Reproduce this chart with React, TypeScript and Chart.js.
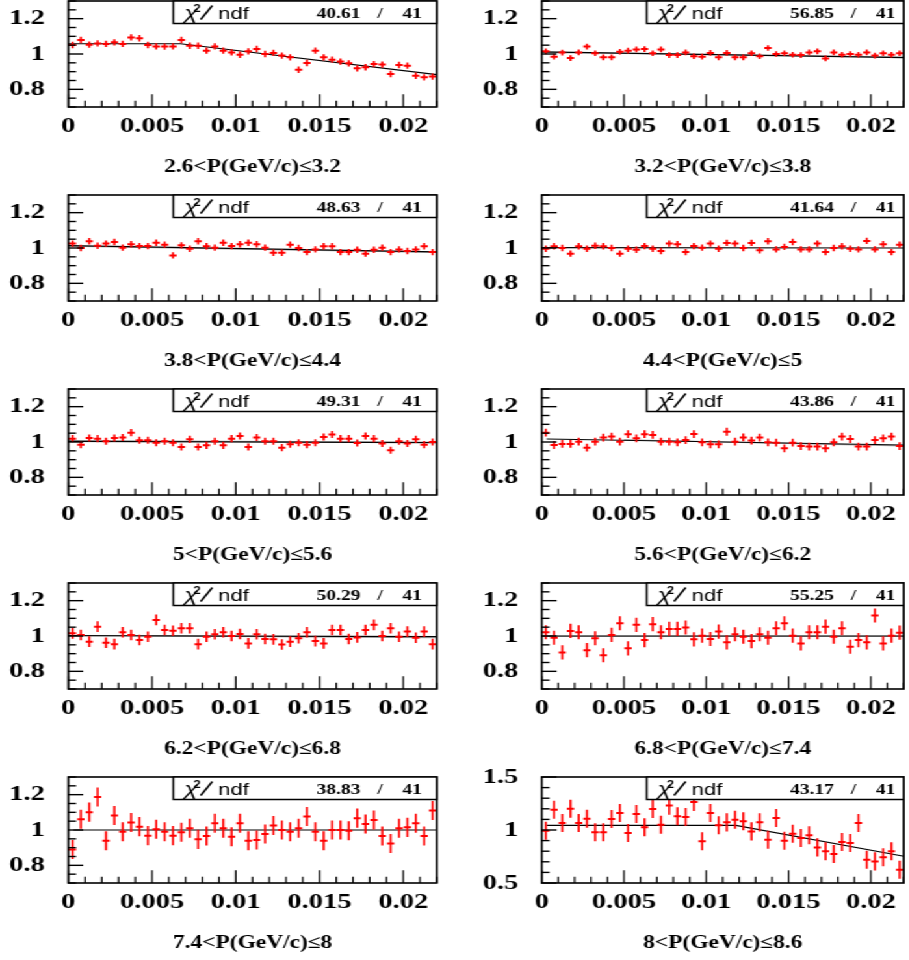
import React, { useEffect, useRef } from "react";
import { Chart, registerables } from "chart.js";
Chart.register(...registerables);

// ---- geometry of the reference (horizontal stretch of the original figure) ----
const STRETCH = 1.3;

// ---- data ----
const binCenters = [
  0.00025, 0.00075, 0.00125, 0.00175, 0.00225, 0.00275, 0.00325, 0.00375, 0.00425, 0.00475,
  0.00525, 0.00575, 0.00625, 0.00675, 0.00725, 0.00775, 0.00825, 0.00875, 0.00925, 0.00975,
  0.01025, 0.01075, 0.01125, 0.01175, 0.01225, 0.01275, 0.01325, 0.01375, 0.01425, 0.01475,
  0.01525, 0.01575, 0.01625, 0.01675, 0.01725, 0.01775, 0.01825, 0.01875, 0.01925, 0.01975,
  0.02025, 0.02075, 0.02125, 0.02175,
];

const panelTitles = [
  "2.6<P(GeV/c)≤3.2", "3.2<P(GeV/c)≤3.8",
  "3.8<P(GeV/c)≤4.4", "4.4<P(GeV/c)≤5",
  "5<P(GeV/c)≤5.6", "5.6<P(GeV/c)≤6.2",
  "6.2<P(GeV/c)≤6.8", "6.8<P(GeV/c)≤7.4",
  "7.4<P(GeV/c)≤8", "8<P(GeV/c)≤8.6",
];

const chi2Values = ["40.61", "56.85", "48.63", "41.64", "49.31", "43.86", "50.29", "55.25", "38.83", "43.17"];
const ndfValues = ["41", "41", "41", "41", "41", "41", "41", "41", "41", "41"];

const ratio1 = [1.051, 1.079, 1.053, 1.060, 1.057, 1.066, 1.057, 1.094, 1.089, 1.051, 1.043, 1.042, 1.043, 1.079, 1.047, 1.047, 1.019, 1.043, 1.019, 1.009, 0.996, 1.015, 1.028, 1.0, 1.006, 0.991, 0.981, 0.911, 0.949, 1.019, 0.981, 0.968, 0.957, 0.947, 0.919, 0.925, 0.943, 0.940, 0.887, 0.938, 0.934, 0.877, 0.868, 0.872];
const ratio2 = [1.015, 0.985, 1.008, 0.977, 1.009, 1.042, 1.004, 0.981, 0.981, 1.013, 1.019, 1.026, 1.028, 1.004, 1.026, 0.994, 0.994, 1.009, 0.987, 0.985, 1.006, 0.981, 1.006, 0.981, 0.981, 1.004, 0.987, 1.034, 1.0, 1.004, 0.996, 0.994, 1.009, 1.015, 0.975, 1.009, 0.996, 1.0, 0.996, 1.009, 0.991, 1.004, 0.996, 1.004];
const ratio3 = [1.025, 1.0, 1.038, 1.013, 1.025, 1.034, 1.002, 1.021, 1.011, 1.011, 1.030, 1.019, 0.958, 1.015, 0.996, 1.038, 1.010, 1.002, 1.030, 1.011, 1.021, 1.030, 1.021, 1.002, 0.973, 0.973, 1.019, 1.0, 0.977, 0.992, 1.010, 1.010, 0.977, 0.977, 0.990, 0.968, 0.990, 1.002, 0.977, 0.992, 0.983, 0.992, 1.010, 0.977];
const ratio4 = [0.996, 1.010, 1.0, 0.968, 1.010, 0.996, 1.013, 1.010, 1.0, 0.968, 0.996, 0.990, 1.011, 0.996, 0.983, 1.025, 1.021, 0.977, 1.011, 1.002, 1.025, 0.996, 1.029, 1.025, 1.0, 1.029, 0.987, 1.038, 0.992, 1.006, 1.034, 0.992, 0.992, 1.025, 0.977, 1.0, 1.010, 0.996, 0.992, 1.040, 0.992, 1.021, 0.977, 1.019];
const ratio5 = [1.019, 0.985, 1.023, 1.019, 1.004, 1.023, 1.025, 1.053, 1.010, 1.010, 0.996, 1.004, 0.996, 0.972, 1.015, 0.972, 0.981, 1.004, 0.981, 1.019, 1.034, 0.972, 1.025, 1.004, 1.004, 0.968, 0.987, 0.996, 0.985, 0.996, 1.028, 1.042, 1.019, 1.019, 0.994, 1.034, 1.019, 0.991, 0.953, 1.004, 0.991, 1.015, 0.985, 1.0];
const ratio6 = [1.053, 0.983, 0.989, 0.989, 1.002, 0.968, 1.002, 1.025, 1.031, 1.002, 1.044, 1.021, 1.044, 1.040, 1.002, 1.002, 0.998, 1.011, 1.045, 0.998, 0.987, 0.987, 1.058, 1.002, 1.026, 1.008, 1.025, 0.998, 0.996, 0.964, 0.996, 0.977, 0.974, 0.974, 0.964, 0.998, 1.031, 1.017, 0.974, 0.974, 1.011, 1.021, 1.031, 0.977];
const ratio7 = [1.015, 1.006, 0.968, 1.053, 0.962, 0.954, 1.021, 1.006, 0.977, 0.996, 1.091, 1.034, 1.030, 1.044, 1.044, 0.954, 0.996, 1.010, 1.021, 1.0, 1.011, 0.958, 1.010, 0.983, 0.981, 0.952, 0.968, 0.987, 1.021, 0.971, 0.958, 1.034, 1.034, 0.983, 0.992, 1.034, 1.063, 1.0, 1.044, 0.996, 1.025, 0.990, 1.025, 0.954];
const ratio8 = [1.021, 0.990, 0.907, 1.029, 1.021, 0.920, 0.987, 0.891, 1.006, 1.072, 0.930, 1.063, 0.977, 1.067, 1.021, 1.040, 1.040, 1.048, 0.981, 1.002, 0.983, 1.025, 0.964, 1.010, 0.996, 0.971, 1.010, 0.990, 1.044, 1.072, 1.002, 0.958, 1.021, 1.021, 1.053, 0.996, 1.044, 0.939, 0.977, 0.964, 1.116, 0.958, 1.002, 1.019];
const ratio9 = [0.890, 1.061, 1.101, 1.187, 0.939, 1.082, 0.990, 1.042, 1.019, 0.968, 1.004, 0.990, 0.968, 0.987, 1.010, 0.947, 0.966, 1.038, 1.010, 0.962, 1.038, 0.939, 0.943, 0.977, 1.025, 1.0, 0.990, 1.010, 1.076, 0.990, 0.939, 1.0, 1.0, 0.996, 1.067, 1.034, 1.057, 0.966, 0.924, 1.010, 1.015, 1.038, 0.966, 1.110];
const ratio10 = [0.994, 1.192, 1.066, 1.201, 1.066, 1.107, 0.978, 0.978, 1.104, 1.160, 0.972, 1.151, 1.025, 1.198, 1.050, 1.230, 1.129, 1.123, 1.264, 0.893, 1.160, 1.044, 1.072, 1.097, 1.082, 0.987, 1.072, 0.909, 1.113, 0.899, 0.965, 0.925, 0.950, 0.836, 0.799, 0.774, 0.887, 0.877, 1.066, 0.720, 0.704, 0.742, 0.799, 0.626];
const ratios = [ratio1, ratio2, ratio3, ratio4, ratio5, ratio6, ratio7, ratio8, ratio9, ratio10];

const ratioErrors = [0.018, 0.016, 0.018, 0.018, 0.02, 0.022, 0.03, 0.04, 0.054, 0.085];

// fit curves (black) : knot x and y
const fitX = [
  [0, 0.0067, 0.022], [0, 0.022], [0, 0.022], [0, 0.022], [0, 0.022],
  [0.0003, 0.022], [0, 0.022], [0, 0.022], [0.0003, 0.022], [0.0003, 0.0118, 0.022],
];
const fitY = [
  [1.058, 1.058, 0.883], [1.012, 0.979], [1.013, 0.978], [1.002, 1.0], [1.004, 0.996],
  [1.017, 0.983], [1.002, 0.996], [1.0, 1.0], [1.0, 1.0], [1.044, 1.044, 0.752],
];
// second (grey) fit lines
const greyX = [
  [], [0, 0.022], [0, 0.022], [], [0, 0.022],
  [0.005, 0.022], [0.005, 0.022], [0, 0.022], [], [],
];
const greyY = [
  [], [1.009, 0.983], [1.01, 0.975], [], [1.008, 0.998],
  [1.012, 0.978], [1.0, 0.99], [0.998, 0.998], [], [],
];

const yMins = [0.7, 0.7, 0.7, 0.7, 0.7, 0.7, 0.7, 0.7, 0.7, 0.5];
const yMaxs = [1.3, 1.3, 1.3, 1.3, 1.3, 1.3, 1.3, 1.3, 1.3, 1.5];
const yTickLabels = [
  [0.8, 1, 1.2], [0.8, 1, 1.2], [0.8, 1, 1.2], [0.8, 1, 1.2], [0.8, 1, 1.2],
  [0.8, 1, 1.2], [0.8, 1, 1.2], [0.8, 1, 1.2], [0.8, 1, 1.2], [0.5, 1, 1.5],
];
const yMajorSteps = [0.2, 0.2, 0.2, 0.2, 0.2, 0.2, 0.2, 0.2, 0.2, 0.5];
const yMinorSteps = [0.05, 0.05, 0.05, 0.05, 0.05, 0.05, 0.05, 0.05, 0.05, 0.1];
const xTickLabels = [0, 0.005, 0.01, 0.015, 0.02];
const xMin = 0;
const xMax = 0.022;
const xMajorStep = 0.005;
const xMinorStep = 0.001;

// ---- layout (canvas units; display is stretched by STRETCH horizontally) ----
const CANVAS_W = 350;
const PAD_TOP = 12;
const PLOT_H = 106;
const XAXIS_H = 75;
const CANVAS_H = PAD_TOP + PLOT_H + XAXIS_H;
const ROW_TOP0 = 0.5;
const ROW_STEP = 194;
const colLeft = [52.54, 66.69];
const colRight = [335.92, 348.69];

const SERIF = '"Liberation Serif", "Times New Roman", serif';
const SANS = '"Liberation Sans", Arial, sans-serif';

function fmt(v: number) {
  return String(parseFloat(v.toFixed(4)));
}

const rootPlugin = {
  id: "rootStyle",
  afterDatasetsDraw(chart: any, _args: any, opts: any) {
    const ctx = chart.ctx;
    const { left, right, top, bottom } = chart.chartArea;
    const xs = chart.scales.x;
    const ys = chart.scales.y;
    const p = opts.panel as number;
    // vertical error bars
    const meta = chart.getDatasetMeta(0);
    const vals = ratios[p];
    const err = ratioErrors[p];
    ctx.save();
    ctx.beginPath();
    ctx.rect(left, top, right - left, bottom - top);
    ctx.clip();
    ctx.strokeStyle = "#ff0000";
    ctx.lineWidth = 1.6;
    meta.data.forEach((el: any, i: number) => {
      const y1 = ys.getPixelForValue(vals[i] + err);
      const y2 = ys.getPixelForValue(vals[i] - err);
      ctx.beginPath();
      ctx.moveTo(el.x, y1);
      ctx.lineTo(el.x, y2);
      ctx.stroke();
    });
    ctx.restore();

    ctx.save();
    ctx.strokeStyle = "#000";
    // y ticks
    ctx.lineWidth = 1.4;
    const yMin = yMins[p], yMax = yMaxs[p], maj = yMajorSteps[p], mn = yMinorSteps[p];
    for (let k = 0; ; k++) {
      const v = yMin + k * mn;
      if (v > yMax + 1e-9) break;
      const isMajor = Math.abs(v / maj - Math.round(v / maj)) < 1e-6;
      const py = ys.getPixelForValue(v);
      ctx.beginPath();
      ctx.moveTo(left, py);
      ctx.lineTo(left + (isMajor ? 11.5 : 6), py);
      ctx.stroke();
    }
    // x ticks
    ctx.lineWidth = 1.2;
    for (let k = 0; ; k++) {
      const v = xMin + k * xMinorStep;
      if (v > xMax + 1e-9) break;
      const isMajor = Math.abs(v / xMajorStep - Math.round(v / xMajorStep)) < 1e-6;
      const px = xs.getPixelForValue(v);
      ctx.beginPath();
      ctx.moveTo(px, bottom);
      ctx.lineTo(px, bottom - (isMajor ? 12.7 : 6.3));
      ctx.stroke();
    }
    // frame
    ctx.lineWidth = 1.6;
    ctx.strokeRect(left, top, right - left, bottom - top);

    // chi2 box
    const bx = left + 80.8;
    const bh = 22.5;
    ctx.fillStyle = "#fff";
    ctx.fillRect(bx, top, right - bx, bh);
    ctx.lineWidth = 1.5;
    ctx.strokeRect(bx, top, right - bx, bh);
    ctx.fillStyle = "#000";
    ctx.textBaseline = "alphabetic";
    ctx.textAlign = "left";
    const base = top + 17.5;
    ctx.font = `italic 19px ${SANS}`;
    ctx.fillText("χ", bx + 8.5, base);
    ctx.font = `bold 10px ${SANS}`;
    ctx.fillText("2", bx + 15.5, top + 11);
    // slash of "χ²/ndf"
    ctx.lineWidth = 1.5;
    ctx.beginPath();
    ctx.moveTo(bx + 21, base + 1);
    ctx.lineTo(bx + 30, top + 4.5);
    ctx.stroke();
    ctx.font = `17px ${SANS}`;
    ctx.fillText("ndf", bx + 34.5, base);
    ctx.font = `bold 15px ${SERIF}`;
    ctx.fillText(chi2Values[p], left + 191, base - 0.5);
    ctx.textAlign = "center";
    ctx.fillText("/", left + 239.8, base - 0.5);
    ctx.fillText(ndfValues[p], left + 264.5, base - 0.5);
    ctx.restore();
  },
};

function zeroPadding(s: any) {
  s.paddingTop = 0;
  s.paddingBottom = 0;
  s.paddingLeft = 0;
  s.paddingRight = 0;
}

function Panel({ index }: { index: number }) {
  const ref = useRef<HTMLCanvasElement | null>(null);
  const col = index % 2;
  const row = Math.floor(index / 2);
  const topPx = ROW_TOP0 + ROW_STEP * row - PAD_TOP;
  const leftPx = col * CANVAS_W;

  useEffect(() => {
    if (!ref.current) return;
    const points = binCenters.map((x, i) => ({ x, y: ratios[index][i] }));
    const fit = fitX[index].map((x, i) => ({ x, y: fitY[index][i] }));
    const grey = greyX[index].map((x, i) => ({ x, y: greyY[index][i] }));
    const yAxisW = colLeft[col];
    const padRight = CANVAS_W - colRight[col];
    const chart = new Chart(ref.current, {
      type: "scatter",
      data: {
        datasets: [
          {
            data: points,
            showLine: false,
            pointStyle: "line",
            pointRadius: 2.8,
            pointHoverRadius: 2.8,
            pointBorderWidth: 2,
            pointBorderColor: "#ff0000",
            pointBackgroundColor: "#ff0000",
            order: 0,
          },
          {
            data: fit,
            showLine: true,
            borderColor: "#000000",
            borderWidth: 1.2,
            pointRadius: 0,
            order: 1,
          },
          {
            data: grey,
            showLine: true,
            borderColor: "#a0a0a0",
            borderWidth: 1.2,
            pointRadius: 0,
            order: 2,
          },
        ],
      } as any,
      options: {
        responsive: false,
        animation: false,
        devicePixelRatio: 1,
        layout: { padding: { top: PAD_TOP, left: 0, right: padRight, bottom: 0 } },
        plugins: {
          legend: { display: false },
          tooltip: { enabled: false },
          rootStyle: { panel: index },
        } as any,
        scales: {
          x: {
            type: "linear",
            position: "bottom",
            min: xMin,
            max: xMax,
            grid: { display: false, drawTicks: false },
            border: { display: false },
            afterBuildTicks: (s: any) => {
              s.ticks = xTickLabels.map((v) => ({ value: v }));
            },
            ticks: {
              autoSkip: false,
              maxRotation: 0,
              padding: 6,
              color: "#000",
              font: { family: SERIF, weight: "bold", size: 22 },
              callback: (v: any) => fmt(Number(v)),
            },
            title: {
              display: true,
              text: panelTitles[index],
              color: "#000",
              font: { family: SERIF, weight: "bold", size: 18 },
              padding: { top: 0, bottom: 3.7 },
            },
            afterFit: (s: any) => {
              s.height = XAXIS_H;
              zeroPadding(s);
            },
          },
          y: {
            type: "linear",
            position: "left",
            min: yMins[index],
            max: yMaxs[index],
            grid: { display: false, drawTicks: false },
            border: { display: false },
            afterBuildTicks: (s: any) => {
              s.ticks = yTickLabels[index].map((v) => ({ value: v }));
            },
            ticks: {
              autoSkip: false,
              padding: 18,
              color: "#000",
              font: { family: SERIF, weight: "bold", size: 22 },
              callback: (v: any) => fmt(Number(v)),
            },
            afterFit: (s: any) => {
              s.width = yAxisW;
              zeroPadding(s);
            },
          },
        },
      } as any,
      plugins: [rootPlugin as any],
    });
    return () => chart.destroy();
  }, [index, col]);

  return (
    <canvas
      ref={ref}
      width={CANVAS_W}
      height={CANVAS_H}
      style={{ position: "absolute", left: leftPx, top: topPx, width: CANVAS_W, height: CANVAS_H }}
    />
  );
}

export default function App() {
  return (
    <div
      style={{
        position: "absolute",
        left: 0,
        top: 0,
        width: 909,
        height: 960,
        overflow: "hidden",
        background: "#fff",
      }}
    >
      <div
        style={{
          position: "absolute",
          left: 0,
          top: 0,
          width: CANVAS_W * 2,
          height: 960,
          transform: `scaleX(${STRETCH})`,
          transformOrigin: "0 0",
        }}
      >
        {panelTitles.map((_, i) => (
          <Panel key={i} index={i} />
        ))}
      </div>
    </div>
  );
}
